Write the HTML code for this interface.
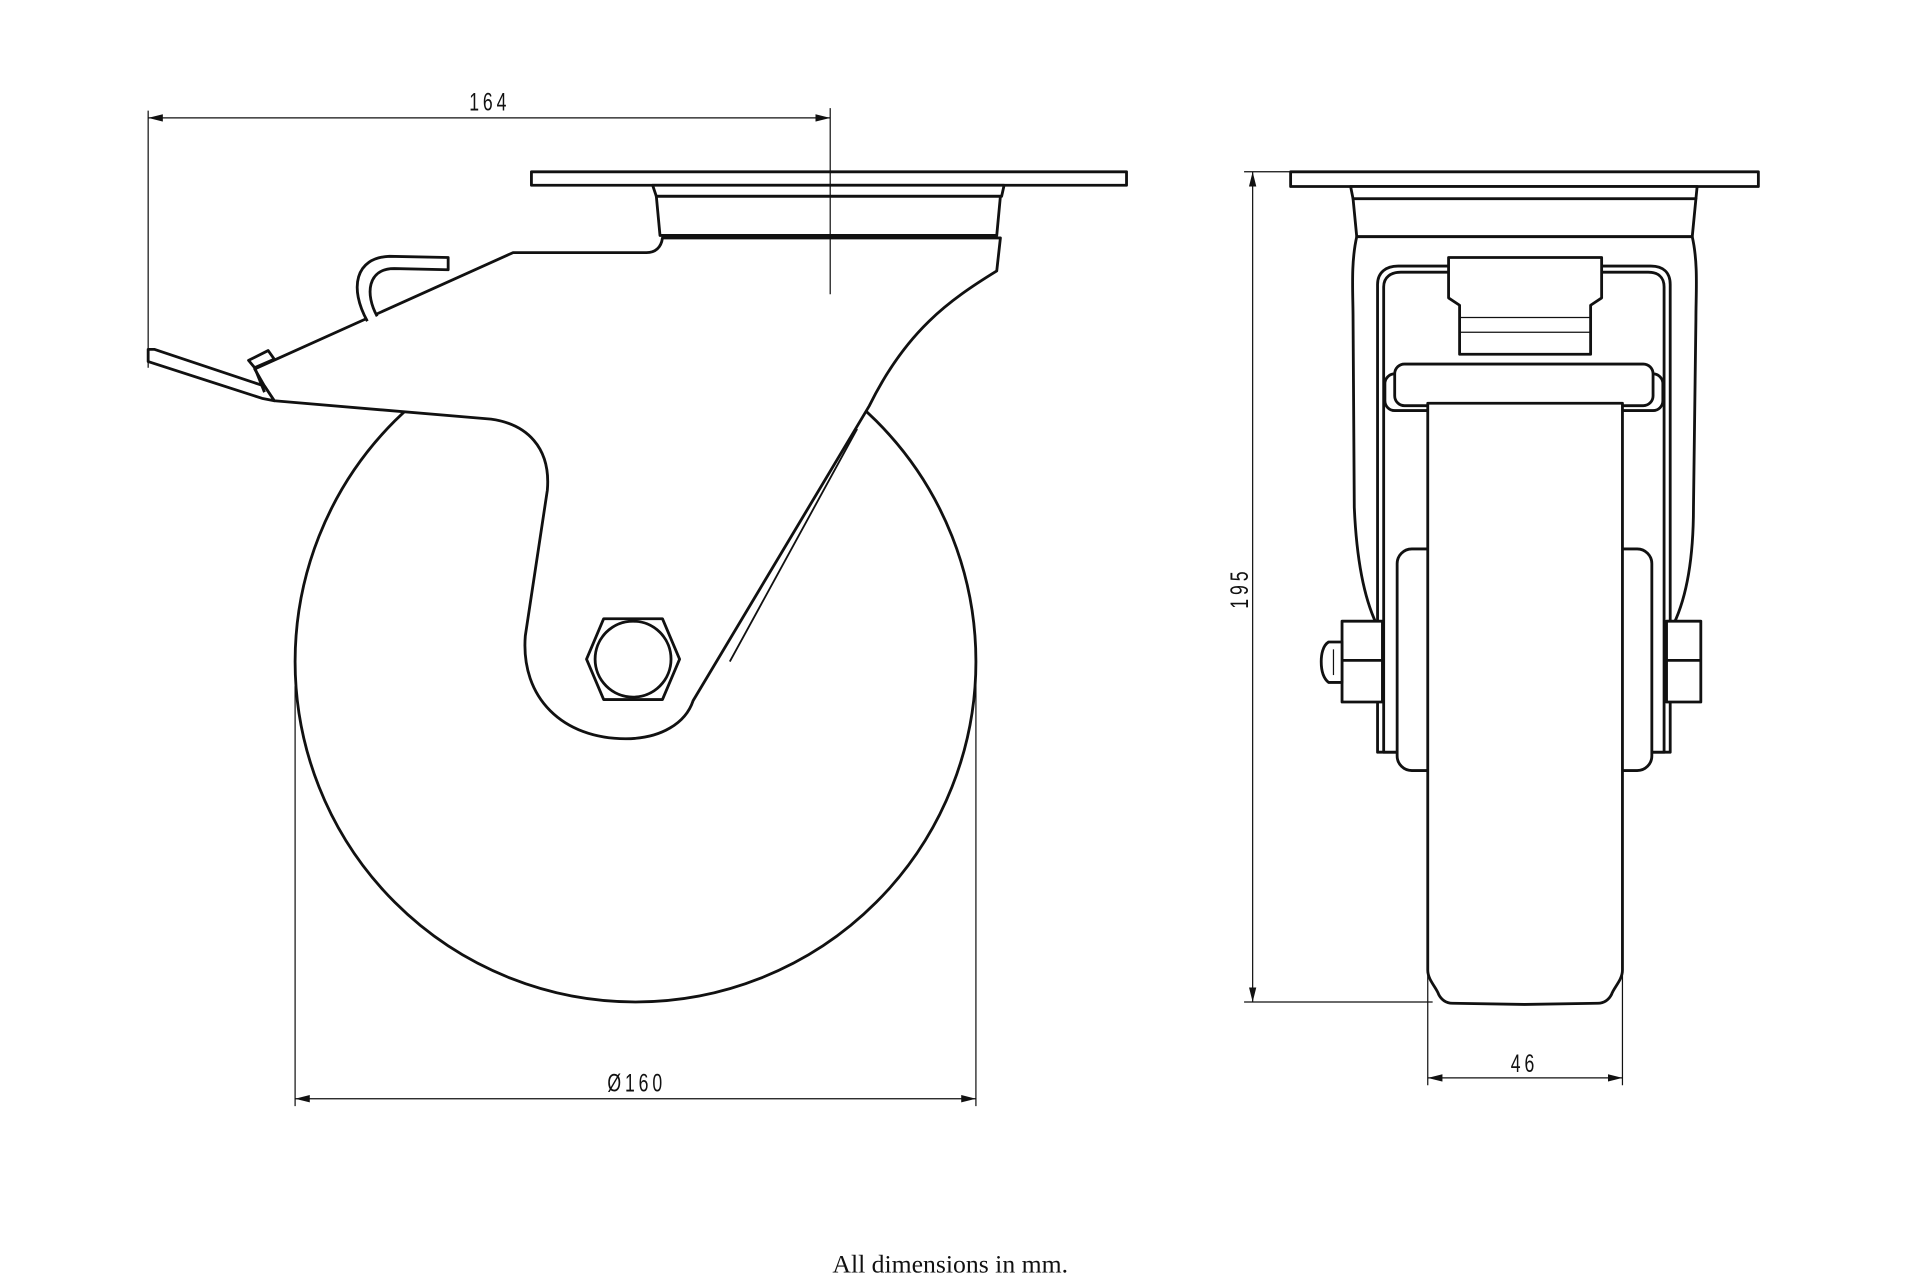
<!DOCTYPE html>
<html><head><meta charset="utf-8"><style>
html,body{margin:0;padding:0;background:#fff;}
svg{display:block;}
text{font-family:"Liberation Sans",sans-serif;fill:#111;}
</style></head><body>
<svg width="1920" height="1284" viewBox="0 0 1568 1048" xmlns="http://www.w3.org/2000/svg">
<defs>
<marker id="a" viewBox="0 0 12 6" refX="12" refY="3" markerWidth="12" markerHeight="6" markerUnits="userSpaceOnUse" orient="auto-start-reverse"><path d="M0 0 L12 3 L0 6 Z" fill="#111"/></marker>
</defs>
<g fill="none" stroke="#111" stroke-width="1">
<line x1="121" y1="90" x2="121" y2="300"/>
<line x1="241" y1="560" x2="241" y2="903"/>
<line x1="797" y1="555" x2="797" y2="903"/>
<line x1="241" y1="897" x2="797" y2="897" marker-start="url(#a)" marker-end="url(#a)"/>
<line x1="121" y1="96" x2="678" y2="96" marker-start="url(#a)" marker-end="url(#a)"/>
<line x1="1016" y1="140" x2="1054" y2="140"/>
<line x1="1016" y1="818" x2="1170" y2="818"/>
<line x1="1023" y1="140" x2="1023" y2="818" marker-start="url(#a)" marker-end="url(#a)"/>
<line x1="1166" y1="760" x2="1166" y2="886"/>
<line x1="1325" y1="760" x2="1325" y2="886"/>
<line x1="1166" y1="880" x2="1325" y2="880" marker-start="url(#a)" marker-end="url(#a)"/>
</g>
<g transform="translate(400,90) scale(0.8,1.15)"><text x="0" y="0" font-size="18" text-anchor="middle" letter-spacing="4">164</text></g>
<g transform="translate(520,891) scale(0.8,1.15)"><text x="0" y="0" font-size="18" text-anchor="middle" letter-spacing="4">Ø160</text></g>
<g transform="translate(1245,875) scale(0.8,1.15)"><text x="0" y="0" font-size="18" text-anchor="middle" letter-spacing="4">46</text></g>
<g transform="translate(1019,480) rotate(-90) scale(0.8,1.15)"><text x="0" y="0" font-size="18" text-anchor="middle" letter-spacing="4">195</text></g>
<text x="776" y="1039" font-size="21" text-anchor="middle" style="font-family:'Liberation Serif',serif">All dimensions in mm.</text>

<g fill="#fff" stroke="#111" stroke-width="2.3" stroke-linejoin="round">
<circle cx="519" cy="540" r="278"/>
<rect x="434" y="140" width="486" height="11"/>
<path d="M533 151 L820 151 L818 160 L536 160 Z"/>
<path d="M536 160 L817 160 L814 192 L539 192 Z"/>
<path d="M224 327 L401 342 C430 346 450 365 447 400 L429 519 C425 570 460 603 511 603 C540 603 560 590 566 572 L710 331 C740 270 775 245 814 221 L817 194 L541 194 C540 202 535 206 528 206 L419 206 L208 301 L216 315 Z"/>
<path d="M700 350 L596 540" fill="none" stroke-width="1.5"/>
<path d="M121 285 L126 285 L207 312 L216 315 L224 327 L214 325 L121 295 Z"/>
<path d="M203 294 L219 286 L224 293 L208 300 Z"/>
<path d="M208 300 L216 320" fill="none"/>
<path d="M300 262 C285 235 290 210 318 209 L366 210 L366 220 L322 219 C300 219 298 240 308 258"/>
<path d="M493 505 L541 505 L555 538 L541 571 L493 571 L479 538 Z"/>
<circle cx="517" cy="538" r="31"/>
</g>
<line x1="678" y1="88" x2="678" y2="240" stroke="#111" stroke-width="1"/>

<g fill="#fff" stroke="#111" stroke-width="2.3" stroke-linejoin="round">
<rect x="1054" y="140" width="382" height="12"/>
<path d="M1103 152 L1386 152 L1385 162 L1105 162 Z"/>
<path d="M1105 162 L1385 162 L1382 193 L1108 193 Z"/>
<path d="M1108 193 C1103 215 1105 239 1105 260 L1106 414 C1108 460 1115 490 1124 509 L1367 509 C1376 490 1383 460 1383 414 L1385 260 C1385 239 1387 215 1382 193 Z"/>
<path d="M1125 614 L1125 232 C1125 222 1132 217 1142 217 L1348 217 C1358 217 1364 222 1364 232 L1364 614 Z"/>
<path d="M1130 614 L1130 234 C1130 226 1136 222 1144 222 L1346 222 C1354 222 1359 226 1359 234 L1359 614 Z"/>
<path d="M1183 210 L1308 210 L1308 243 L1299 249 L1299 289 L1192 289 L1192 249 L1183 243 Z"/>
<line x1="1192" y1="259" x2="1299" y2="259" stroke-width="1"/>
<line x1="1192" y1="271" x2="1299" y2="271" stroke-width="1"/>
<rect x="1131" y="305" width="227" height="30" rx="8"/>
<rect x="1139" y="297" width="211" height="34" rx="8"/>
<rect x="1141" y="448" width="208" height="181" rx="12"/>
<path d="M1166 329 L1325 329 L1325 792 C1325 800 1318 806 1316 812 C1314 816 1310 819 1305 819 L1245 820 L1186 819 C1181 819 1177 816 1175 812 C1173 806 1166 800 1166 792 Z"/>
<rect x="1096" y="507" width="33" height="66"/>
<line x1="1096" y1="539" x2="1129" y2="539"/>
<path d="M1096 524 L1085 524 C1080 527 1079 535 1079 540 C1079 546 1080 553 1085 557 L1096 557 Z"/>
<line x1="1089" y1="530" x2="1089" y2="551" stroke-width="1"/>
<rect x="1361" y="507" width="28" height="66"/>
<line x1="1361" y1="539" x2="1389" y2="539"/>
</g>
</svg>
</body></html>
